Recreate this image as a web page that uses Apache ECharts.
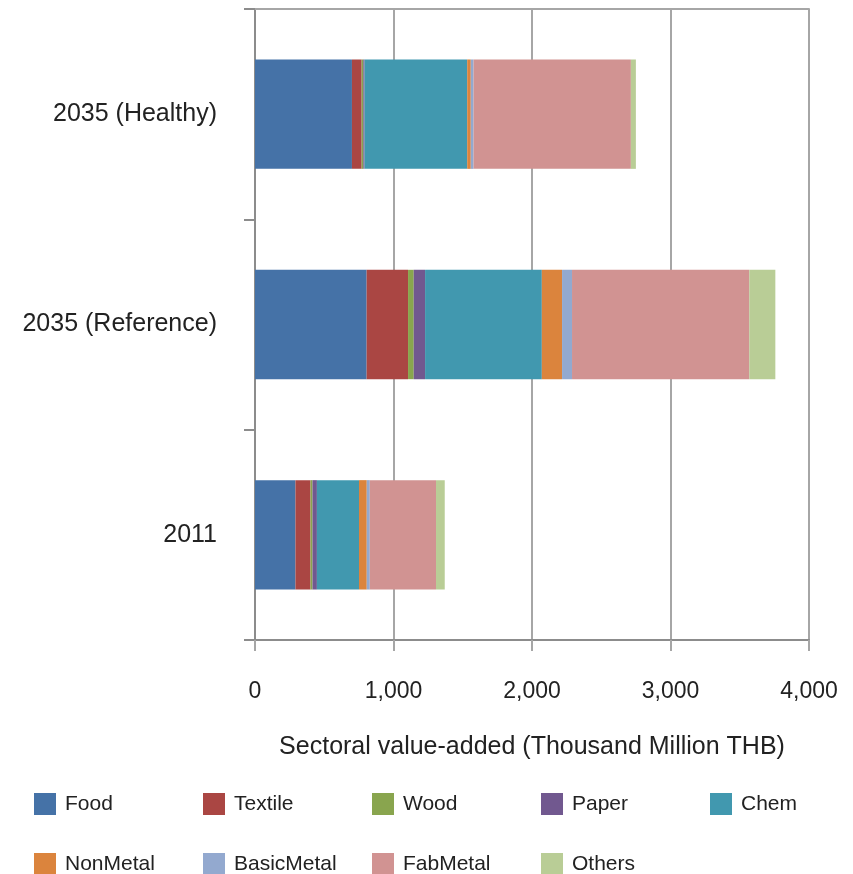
<!DOCTYPE html>
<html>
<head>
<meta charset="utf-8">
<script src="https://cdn.jsdelivr.net/npm/echarts@6/dist/echarts.min.js"></script>
<style>html,body{margin:0;padding:0;background:#fff}#c{width:853px;height:874px}</style>
</head>
<body>
<div id="c"></div>
<script>
const categories = ['2011', '2035 (Reference)', '2035 (Healthy)'];
const sectors = ['Food', 'Textile', 'Wood', 'Paper', 'Chem', 'NonMetal', 'BasicMetal', 'FabMetal', 'Others'];
const Food       = [292, 806, 700];
const Textile    = [109, 299, 70];
const Wood       = [14, 41, 12];
const Paper      = [32, 82, 9];
const Chem       = [304, 843, 741];
const NonMetal   = [56, 146, 26];
const BasicMetal = [22, 72, 20];
const FabMetal   = [478, 1280, 1136];
const Others     = [63, 188, 36];
const seriesValues = [Food, Textile, Wood, Paper, Chem, NonMetal, BasicMetal, FabMetal, Others];
const colors = ['#4572a7', '#aa4643', '#89a54e', '#71588f', '#4198af', '#db843d', '#93a9cf', '#d19392', '#b9cd96'];
const xTicks = { min: 0, max: 4000, interval: 1000 };
const axisName = 'Sectoral value-added (Thousand Million THB)';

const font = 'Liberation Sans';
const chart = echarts.init(document.getElementById('c'), null, { renderer: 'canvas' });

// one legend component per item, laid out on a 5-column grid
const colX = [34, 203, 372, 541, 710];
const rowY = [793, 853];
const legends = sectors.map((s, i) => ({
  left: colX[i % 5], top: rowY[Math.floor(i / 5)],
  data: [s], itemWidth: 22, itemHeight: 22, icon: 'rect', padding: 0,
  textStyle: { fontFamily: font, fontSize: 21, color: '#222', padding: [0, 0, 5, 4] }
}));

chart.setOption({
  animation: false,
  color: colors,
  textStyle: { fontFamily: font },
  grid: { left: 255, right: 44, top: 9, bottom: 234, containLabel: false },
  legend: legends,
  xAxis: [{
    type: 'value', min: xTicks.min, max: xTicks.max, interval: xTicks.interval,
    name: axisName, nameLocation: 'middle', nameGap: 95,
    nameTextStyle: { fontFamily: font, fontSize: 25, color: '#222' },
    axisLine: { show: true, lineStyle: { color: '#8c8c8c', width: 2 } },
    axisTick: { show: true, length: 11, lineStyle: { color: '#a6a6a6', width: 2 } },
    axisLabel: { margin: 40, fontFamily: font, fontSize: 23, color: '#222' },
    splitLine: { show: true, lineStyle: { color: '#a6a6a6', width: 2 } }
  }, {
    type: 'value', position: 'top', min: xTicks.min, max: xTicks.max, interval: xTicks.interval,
    axisLine: { show: true, lineStyle: { color: '#a6a6a6', width: 2 } },
    axisTick: { show: false }, axisLabel: { show: false }, splitLine: { show: false }
  }],
  yAxis: {
    type: 'category', data: categories,
    axisLine: { show: true, lineStyle: { color: '#8c8c8c', width: 2 } },
    axisTick: { show: true, length: 11, lineStyle: { color: '#8c8c8c', width: 2 } },
    axisLabel: { margin: 38, fontFamily: font, fontSize: 25, color: '#222' }
  },
  series: sectors.map((s, i) => ({
    name: s, type: 'bar', stack: 'total', data: seriesValues[i],
    barCategoryGap: '48%'
  }))
});
</script>
</body>
</html>
